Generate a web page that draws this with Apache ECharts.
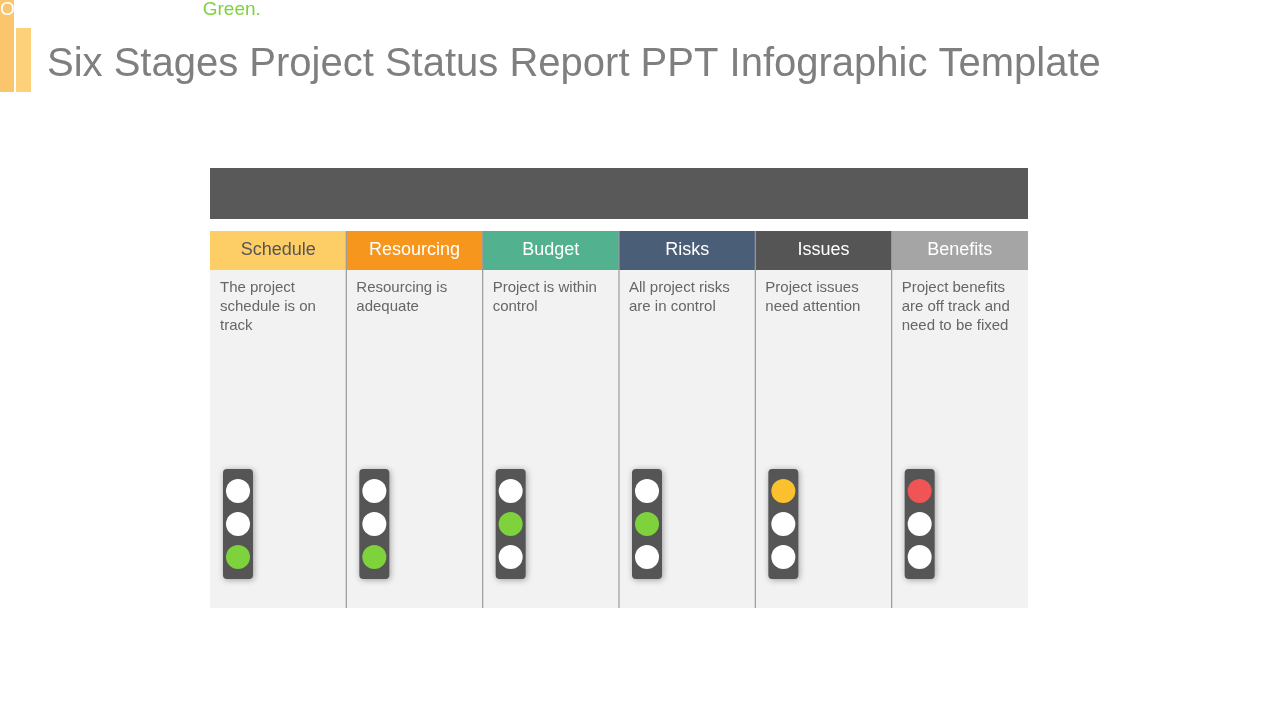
<!DOCTYPE html>
<html>
<head>
<meta charset="utf-8">
<script src="https://cdn.jsdelivr.net/npm/echarts@6/dist/echarts.min.js"></script>
<style>html,body{margin:0;padding:0;background:#fff}#main{width:1280px;height:720px}</style>
</head>
<body>
<div id="main"></div>
<script>
// stages and what each one shows
const stages = ["Schedule", "Resourcing", "Budget", "Risks", "Issues", "Benefits"];
const headerColors = ["#fdcd66", "#f7961d", "#52b18f", "#4a5e78", "#555555", "#a5a5a5"];
const headerTextColors = ["#555555", "#ffffff", "#ffffff", "#ffffff", "#ffffff", "#ffffff"];
const descriptions = [
  "The project schedule is on track",
  "Resourcing is adequate",
  "Project is within control",
  "All project risks are in control",
  "Project issues need attention",
  "Project benefits are off track and need to be fixed"
];
// which lamp is lit: 0 = top, 1 = middle, 2 = bottom
const litLamp = [2, 2, 1, 1, 0, 0];
const lampColors = ["#7ed23c", "#7ed23c", "#7ed23c", "#7ed23c", "#fbc02d", "#f05454"];

var dom = document.getElementById("main");
var myChart = echarts.init(dom, null, { renderer: "canvas" });

function renderItem(params, api) {
  var i = api.value(0);
  var w = api.size([1, 0])[0];
  var left = api.coord([i, 0])[0] - w / 2;
  var top = api.coord([i, 0])[1];
  var children = [];
  // header cell
  children.push({ type: "rect", shape: { x: left, y: top + 63, width: w, height: 39 }, style: { fill: headerColors[i] } });
  children.push({ type: "text", style: { x: left + w / 2, y: top + 82.5, text: stages[i], fill: headerTextColors[i], font: "18px Arial, 'Liberation Sans'", align: "center", verticalAlign: "middle" } });
  // body cell
  var bottom = api.coord([i, 440])[1];
  children.push({ type: "rect", shape: { x: left, y: top + 102, width: w, height: bottom - top - 102 }, style: { fill: "#f2f2f2" } });
  if (i > 0) {
    children.push({ type: "line", shape: { x1: left, y1: top + 63, x2: left, y2: bottom }, style: { stroke: "#9a9a9a", lineWidth: 1.2 } });
  }
  children.push({ type: "text", style: { x: left + 10, y: top + 110, text: descriptions[i], width: w - 18, overflow: "break", lineHeight: 19, fill: "#666666", font: "15px Arial, 'Liberation Sans'", align: "left", verticalAlign: "top" } });
  // traffic light
  children.push({ type: "rect", shape: { x: left + 13, y: top + 301, width: 30, height: 110, r: 4 }, style: { fill: "#555555", shadowBlur: 6, shadowColor: "rgba(0,0,0,0.35)", shadowOffsetX: 1, shadowOffsetY: 1 } });
  for (var k = 0; k < 3; k++) {
    children.push({ type: "circle", shape: { cx: left + 28, cy: top + 323 + k * 33, r: 12 }, style: { fill: k === litLamp[i] ? lampColors[i] : "#ffffff" } });
  }
  return { type: "group", children: children };
}

var option = {
  animation: false,
  title: {
    text: "Six Stages Project Status Report PPT Infographic Template",
    left: 42, top: 40,
    textStyle: { color: "#7f7f7f", fontSize: 40, fontWeight: "normal", fontFamily: "Arial, 'Liberation Sans'" }
  },
  graphic: [
    { type: "rect", shape: { x: 0, y: 0, width: 14, height: 92 }, style: { fill: "#fbc56b" } },
    { type: "rect", shape: { x: 16, y: 28, width: 15, height: 64 }, style: { fill: "#fdd07a" } },
    { type: "rect", shape: { x: 210, y: 168, width: 818, height: 51 }, style: { fill: "#595959" } },
    {
      type: "text", left: 0, top: 0,
      style: {
        x: 619, y: 196, align: "center", verticalAlign: "middle",
        text: "{w|Overall project status is }{g|Green.}",
        rich: {
          w: { fill: "#ffffff", font: "19px Arial, 'Liberation Sans'" },
          g: { fill: "#7ed23c", font: "19px Arial, 'Liberation Sans'" }
        }
      }
    }
  ],
  grid: { left: 210, right: 252, top: 168, bottom: 112 },
  xAxis: { type: "category", data: stages, show: false },
  yAxis: { type: "value", min: 0, max: 440, inverse: true, show: false },
  series: [{
    type: "custom",
    renderItem: renderItem,
    data: stages.map(function (s, i) { return [i]; })
  }]
};

myChart.setOption(option);
window.addEventListener("resize", myChart.resize);
</script>
</body>
</html>
